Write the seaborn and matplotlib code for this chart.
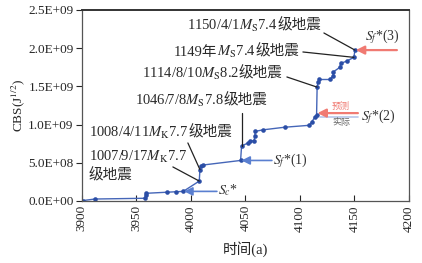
import matplotlib
matplotlib.use('Agg')
import matplotlib.pyplot as plt
from matplotlib.offsetbox import TextArea, HPacker, VPacker, AnnotationBbox
import numpy as np
import pandas as pd
import seaborn as sns

# dati (anno, CBS in unita di 1E9)
anni = [3901, 3912, 3958, 3958.5, 3959, 3978, 3986, 3993, 4007.7, 4008.3, 4009, 4011,
        4045.6, 4046.5, 4052.6, 4054, 4058, 4058.7, 4059, 4065.7, 4086, 4108.5, 4110.7,
        4113.8, 4115.3, 4115.8, 4116.7, 4117.6, 4127.5, 4130.5, 4130.7, 4136.7, 4137.3,
        4142.8, 4149.5, 4150.5]
cbs = [0.005, 0.025, 0.035, 0.08, 0.10, 0.114, 0.12, 0.125, 0.26, 0.41, 0.46, 0.47,
       0.53, 0.72, 0.76, 0.78, 0.79, 0.855, 0.91, 0.93, 0.965, 0.99, 1.03,
       1.10, 1.13, 1.49, 1.56, 1.59, 1.59, 1.64, 1.69, 1.75, 1.80,
       1.83, 1.88, 1.975]

x_ticks = [3900, 3950, 4000, 4050, 4100, 4150, 4200]
y_ticks = [0, 5e8, 1e9, 1.5e9, 2e9, 2.5e9]
y_ticklabels = ['0.0E+00', '5.0E+08', '1.0E+09', '1.5E+09', '2.0E+09', '2.5E+09']

# terremoti annotati: pezzi di testo (righe), indice del punto
eventi = {
    '1150': ([['1150/4/1$M_{\\rm S}$7.4', '级地震']], 35),
    '1149': ([['1149年', '$M_{\\rm S}$7.4', '级地震']], 34),
    '1114': ([['1114/8/10$M_{\\rm S}$8.2', '级地震']], 25),
    '1046': ([['1046/7/8$M_{\\rm S}$7.8', '级地震']], 13),
    '1008': ([['1008/4/11$M_{\\rm K}$7.7', '级地震']], 9),
    '1007': ([['1007/9/17$M_{\\rm K}$7.7'], ['级地震']], 8),
}
idx_sc = 7
idx_sf1 = 12
idx_sf2 = 24
idx_sf3 = 35

df = pd.DataFrame({'anno': anni, 'cbs': np.array(cbs) * 1e9})

sns.set_style("ticks")
plt.rcParams['font.family'] = ['Liberation Serif', 'Noto Sans CJK SC']
plt.rcParams['mathtext.fontset'] = 'stix'

fig = plt.figure(figsize=(4.22, 2.63), dpi=100)
ax = fig.add_axes([0.194, 0.236, 0.775, 0.726])

sns.lineplot(x='anno', y='cbs', data=df, sort=False, ax=ax, color='#4566b8', lw=1.0,
             marker='o', markersize=3.3, markeredgewidth=0, markerfacecolor='#2b4ea6')

ax.set_xlim(3900, 4200)
ax.set_ylim(0, 2.5e9)
ax.set_xticks(x_ticks)
ax.set_xticklabels([str(t) for t in x_ticks], rotation=90, fontsize=9.5)
ax.set_yticks(y_ticks)
ax.set_yticklabels(y_ticklabels, fontsize=9.5)
ax.tick_params(axis='x', direction='in', length=4, pad=3)
ax.tick_params(axis='y', direction='out', length=4, pad=2)
ax.set_xlabel('时间(a)', fontsize=10.5, labelpad=7, fontweight='light')
ax.set_ylabel('CBS(J$^{1/2}$)', fontsize=9.5, labelpad=1)
for s in ax.spines.values():
    s.set_color('#555555')
    s.set_linewidth(0.9)
ax.spines['top'].set_color('#333333')
ax.spines['top'].set_linewidth(1.4)


def px(xp, yp):
    # pixel (dall'alto a sinistra) -> coordinate dati
    return 3900 + (xp - 82) / 54.5 * 50, (201 - yp) / 76.4 * 1e9


def punto(i):
    return anni[i], cbs[i] * 1e9


fs = 10.5
tp = dict(fontsize=fs, color='#2a2a2a', fontweight='light')


def riga(pezzi):
    aree = [TextArea(p, textprops=tp) for p in pezzi]
    if len(aree) == 1:
        return aree[0]
    return HPacker(children=aree, align='baseline', pad=0, sep=0)


def etichetta(righe, xy, ha):
    linee = [riga(r) for r in righe]
    box = linee[0] if len(linee) == 1 else VPacker(children=linee, align='left', pad=0, sep=2)
    ab = AnnotationBbox(box, xy, xycoords='data', frameon=False, pad=0,
                        box_alignment=(1.0 if ha == 'right' else 0.0, 0.5))
    ax.add_artist(ab)


# etichette dei terremoti con le linee nere
layout = {
    '1150': ((322, 26), (324, 33), 'right'),
    '1149': ((300, 52), (303, 52), 'right'),
    '1114': ((283, 74), (287, 77), 'right'),
    '1046': ((268, 101), (242.7, 113), 'right'),
    '1008': ((89, 133), (188, 143), 'left'),
    '1007': ((89, 166), (173, 167), 'left'),
}
for k, (righe, i) in eventi.items():
    (tx, ty), (lx, ly), ha = layout[k]
    etichetta(righe, px(tx, ty), ha)
    l0 = px(lx, ly)
    xe, ye = punto(i)
    if k == '1046':
        l0 = (xe, l0[1])
    ax.plot([l0[0], xe], [l0[1], ye], color='#222222', lw=0.9)

blu = '#5a7fd0'
rosso = '#f07a72'


def freccia(i, x_coda, col, dy=0.0, lw=1.2):
    xe, ye = punto(i)
    ax.annotate('', xy=(xe + 0.8, ye + dy), xytext=(x_coda, ye + dy),
                arrowprops=dict(arrowstyle='-|>,head_length=0.5,head_width=0.25',
                                color=col, lw=lw, shrinkA=0, shrinkB=0))


# S_c*
freccia(idx_sc, px(217, 0)[0], blu)
ax.text(px(218, 0)[0], punto(idx_sc)[1] + 0.02e9, '$S_c$*', fontsize=10,
        va='center', ha='left', color='#333333')
# S_f*(1)
freccia(idx_sf1, px(272, 0)[0], blu)
ax.text(px(273, 0)[0], punto(idx_sf1)[1], '$S_f$*(1)', fontsize=10,
        va='center', ha='left', color='#333333')
# S_f*(2): previsto (rosso) e reale (azzurro)
freccia(idx_sf2, px(358, 0)[0], rosso, dy=0.02e9, lw=1.6)
ax.plot([punto(idx_sf2)[0] + 3, px(358, 0)[0]], [punto(idx_sf2)[1] - 0.025e9] * 2,
        color='#b8c6ea', lw=1.2)
ax.text(px(341, 0)[0], px(0, 107)[1], '预测', fontsize=6.5, color=rosso,
        ha='center', va='center', fontweight='light')
ax.text(px(341, 0)[0], px(0, 123)[1], '实际', fontsize=6.5, color='#666666',
        ha='center', va='center', fontweight='light')
ax.text(px(361, 0)[0], px(0, 117)[1], '$S_f$*(2)', fontsize=10,
        va='center', ha='left', color='#333333')
# S_f*(3)
freccia(idx_sf3, px(397, 0)[0], rosso, lw=1.6)
ax.text(px(365, 0)[0], px(0, 37)[1], '$S_f$*(3)', fontsize=10,
        va='center', ha='left', color='#333333')

plt.savefig('out.png', dpi=100)
